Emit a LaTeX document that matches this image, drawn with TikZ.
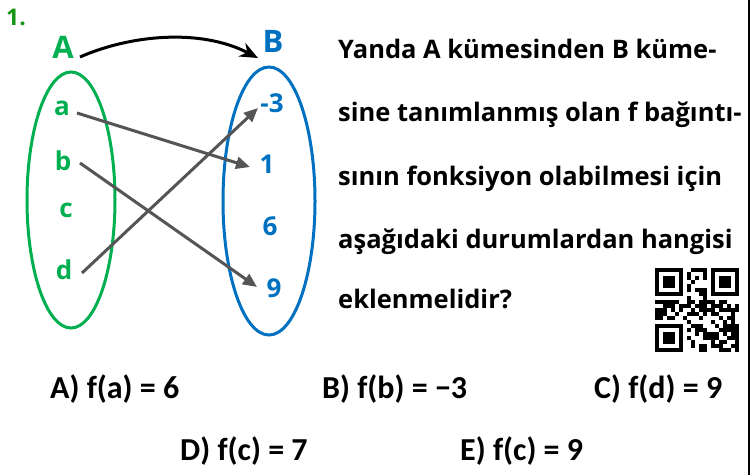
\documentclass[tikz,border=0pt]{standalone}
\usepackage{fontspec}
\setmainfont{Open Sans}
\newfontfamily\optfont{Carlito}
\usetikzlibrary{arrows.meta}
\definecolor{setgreen}{RGB}{0,176,80}
\definecolor{numgreen}{RGB}{20,150,20}
\definecolor{setblue}{RGB}{0,112,192}
\definecolor{arrgray}{RGB}{85,85,85}
\tikzset{
  elemA/.style={anchor=base,text=setgreen,font=\fontsize{26}{28}\selectfont\bfseries,inner sep=0pt},
  elemB/.style={anchor=base,text=setblue,font=\fontsize{26}{28}\selectfont\bfseries,inner sep=0pt},
  maparrow/.style={arrgray,line width=3pt,-{Triangle[length=14pt,width=12pt]}},
  qline/.style={anchor=base west,font=\fontsize{25.5}{28}\selectfont\bfseries,inner sep=0pt},
  opt/.style={anchor=base west,font=\fontsize{32}{34}\selectfont\optfont\bfseries,inner sep=0pt},
}
\begin{document}
\begin{tikzpicture}[x=1pt,y=-1pt]
\useasboundingbox (0,0) rectangle (752,475);
\fill[white] (0,0) rectangle (752,475);
\draw[line width=2pt] (749,0) -- (749,475);
% number
\node[anchor=base west,text=numgreen,font=\fontsize{23}{24}\selectfont\bfseries,inner sep=0pt] (num) at (6,25) {1.};
% set names
\node[anchor=base,text=setgreen,font=\fontsize{31}{32}\selectfont\bfseries,inner sep=0pt] (A) at (63,58) {A};
\node[anchor=base,text=setblue,font=\fontsize{31}{32}\selectfont\bfseries,inner sep=0pt] (B) at (273,52) {B};
\draw[line width=3pt,-{Stealth[length=18pt,width=15pt]}] ([xshift=17pt,yshift=1pt]A.base) .. controls (130,35) and (200,28) .. ([xshift=-15pt,yshift=-6pt]B.base);
% ellipses
\draw[setgreen,line width=3pt] (71,200) ellipse [x radius=44,y radius=128];
\draw[setblue,line width=3pt] (269,201) ellipse [x radius=46,y radius=134];
% elements
\node[elemA] (a) at (62,115) {a};
\node[elemA] (b) at (63,170) {b};
\node[elemA] (c) at (66,217) {c};
\node[elemA] (d) at (64,279) {d};
\node[elemB] (m3) at (272,112) {-3};
\node[elemB] (p1) at (267,173) {1};
\node[elemB] (p6) at (270,235) {6};
\node[elemB] (p9) at (274,297) {9};
% mappings
\draw[maparrow] ([xshift=15pt,yshift=2pt]a.base) -- ([xshift=-17pt,yshift=6pt]p1.base);
\draw[maparrow] ([xshift=17pt,yshift=7pt]b.base) -- ([xshift=-17pt,yshift=10pt]p9.base);
\draw[maparrow] ([xshift=18pt,yshift=6pt]d.base) -- ([xshift=-14pt,yshift=4pt]m3.base);
% question text
\node[qline] (q1) at (338,58) {Yanda A kümesinden B küme-};
\node[qline] (q2) at (338,121) {sine tanımlanmış olan f bağıntı-};
\node[qline] (q3) at (338,185) {sının fonksiyon olabilmesi için};
\node[qline] (q4) at (338,248) {aşağıdaki durumlardan hangisi};
\node[qline] (q5) at (338,308) {eklenmelidir?};
% QR code
\coordinate (qr) at (655,268);
\begin{scope}[shift={(qr)}]
\pgfmathsetseed{23}
\foreach \i in {0,...,20}{\foreach \j in {0,...,20}{
  \pgfmathtruncatemacro\inf{or(or(and(\i<8,\j<8),and(\i>12,\j<8)),and(\i<8,\j>12))}
  \pgfmathtruncatemacro\on{rnd>0.45}
  \ifnum\inf=0 \ifnum\on=1 \fill[black] (\i*4,\j*4) rectangle +(4,4); \fi\fi
}}
\foreach \px/\py in {0/0,56/0,0/56}{
  \fill[black] (\px,\py) rectangle +(28,28);
  \fill[white] (\px+4,\py+4) rectangle +(20,20);
  \fill[black] (\px+8,\py+8) rectangle +(12,12);
}
\end{scope}
% options
\node[opt] (oA) at (50,398) {A) f(a) = 6};
\node[opt] (oB) at (322,398) {B) f(b) = −3};
\node[opt] (oC) at (594,398) {C) f(d) = 9};
\node[opt] (oD) at (180,460) {D) f(c) = 7};
\node[opt] (oE) at (460,460) {E) f(c) = 9};
\end{tikzpicture}
\end{document}
